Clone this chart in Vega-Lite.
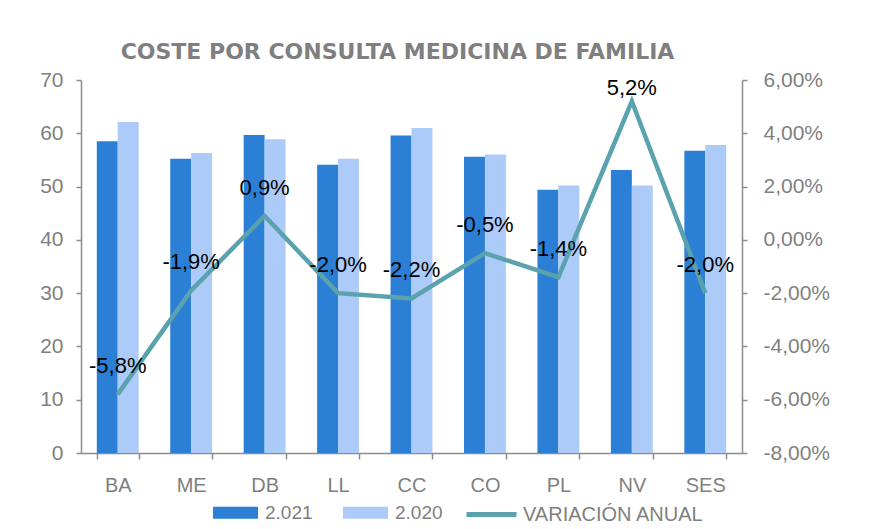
{
  "$schema": "https://vega.github.io/schema/vega-lite/v6.json",
  "autosize": "none",
  "width": 661,
  "height": 373,
  "padding": {"left": 81, "top": 80, "right": 149, "bottom": 76},
  "background": "white",
  "title": {
    "text": "COSTE POR CONSULTA MEDICINA DE FAMILIA",
    "font": "DejaVu Sans",
    "fontSize": 22,
    "fontWeight": "bold",
    "color": "#7f7f7f",
    "anchor": "middle",
    "frame": "group",
    "dx": -14,
    "baseline": "alphabetic",
    "offset": -12
  },
  "datasets": {
    "bars": [
      {"cat": "BA", "serie": "2.021", "valor": 58.5},
      {"cat": "BA", "serie": "2.020", "valor": 62.1},
      {"cat": "ME", "serie": "2.021", "valor": 55.2},
      {"cat": "ME", "serie": "2.020", "valor": 56.3},
      {"cat": "DB", "serie": "2.021", "valor": 59.7},
      {"cat": "DB", "serie": "2.020", "valor": 58.9},
      {"cat": "LL", "serie": "2.021", "valor": 54.1},
      {"cat": "LL", "serie": "2.020", "valor": 55.2},
      {"cat": "CC", "serie": "2.021", "valor": 59.6},
      {"cat": "CC", "serie": "2.020", "valor": 61.0},
      {"cat": "CO", "serie": "2.021", "valor": 55.6},
      {"cat": "CO", "serie": "2.020", "valor": 56.0},
      {"cat": "PL", "serie": "2.021", "valor": 49.4},
      {"cat": "PL", "serie": "2.020", "valor": 50.2},
      {"cat": "NV", "serie": "2.021", "valor": 53.1},
      {"cat": "NV", "serie": "2.020", "valor": 50.2},
      {"cat": "SES", "serie": "2.021", "valor": 56.7},
      {"cat": "SES", "serie": "2.020", "valor": 57.8}
    ],
    "var": [
      {"cat": "BA", "v": -0.058},
      {"cat": "ME", "v": -0.019},
      {"cat": "DB", "v": 0.009},
      {"cat": "LL", "v": -0.020},
      {"cat": "CC", "v": -0.022},
      {"cat": "CO", "v": -0.005},
      {"cat": "PL", "v": -0.014},
      {"cat": "NV", "v": 0.052},
      {"cat": "SES", "v": -0.020}
    ]
  },
  "layer": [
    {
      "data": {"name": "bars"},
      "mark": {"type": "bar"},
      "encoding": {
        "x": {
          "field": "cat",
          "type": "nominal",
          "sort": ["BA", "ME", "DB", "LL", "CC", "CO", "PL", "NV", "SES"],
          "scale": {"paddingInner": 0.43, "paddingOuter": 0.215},
          "axis": {
            "title": null,
            "labelAngle": 0,
            "labelFont": "Liberation Sans",
            "labelFontSize": 20,
            "labelColor": "#7f7f7f",
            "labelPadding": 16,
            "tickBand": "extent",
            "tickSize": 6,
            "tickColor": "#8c8c8c",
            "tickWidth": 1.5,
            "domainColor": "#8c8c8c",
            "domainWidth": 1.5
          }
        },
        "xOffset": {
          "field": "serie",
          "type": "nominal",
          "sort": ["2.021", "2.020"],
          "scale": {"paddingInner": 0, "paddingOuter": 0}
        },
        "y": {
          "field": "valor",
          "type": "quantitative",
          "scale": {"domain": [0, 70], "nice": false, "zero": true},
          "axis": {
            "title": null,
            "values": [0, 10, 20, 30, 40, 50, 60, 70],
            "grid": false,
            "labelFont": "Liberation Sans",
            "labelFontSize": 21,
            "labelColor": "#7f7f7f",
            "labelPadding": 13,
            "tickSize": 5,
            "tickColor": "#8c8c8c",
            "tickWidth": 1.5,
            "domainColor": "#8c8c8c",
            "domainWidth": 1.5
          }
        },
        "color": {
          "field": "serie",
          "type": "nominal",
          "sort": ["2.021", "2.020"],
          "scale": {"domain": ["2.021", "2.020"], "range": ["#2B7FD5", "#ACCBF8"]},
          "legend": {
            "title": null,
            "orient": "none",
            "direction": "horizontal",
            "legendX": 132,
            "legendY": 410,
            "padding": 0,
            "symbolType": "M-1,-0.27H1V0.27H-1Z",
            "symbolSize": 2025,
            "symbolStrokeWidth": 0,
            "labelOffset": 7,
            "columnPadding": 30,
            "labelFont": "Liberation Sans",
            "labelFontSize": 19,
            "labelColor": "#7f7f7f"
          }
        }
      }
    },
    {
      "data": {"name": "var"},
      "encoding": {
        "x": {"field": "cat", "type": "nominal", "sort": ["BA", "ME", "DB", "LL", "CC", "CO", "PL", "NV", "SES"]},
        "y": {
          "field": "v",
          "type": "quantitative",
          "scale": {"domain": [-0.08, 0.06], "nice": false, "zero": false},
          "axis": {
            "title": null,
            "orient": "right",
            "values": [-0.08, -0.06, -0.04, -0.02, 0, 0.02, 0.04, 0.06],
            "format": ".2%",
            "grid": false,
            "labelFont": "Liberation Sans",
            "labelFontSize": 21,
            "labelColor": "#7f7f7f",
            "labelPadding": 16,
            "tickSize": 5,
            "tickColor": "#8c8c8c",
            "tickWidth": 1.5,
            "domainColor": "#8c8c8c",
            "domainWidth": 1.5
          }
        }
      },
      "layer": [
        {
          "mark": {"type": "line", "strokeWidth": 4.5},
          "encoding": {
            "stroke": {
              "datum": "VARIACIÓN ANUAL",
              "type": "nominal",
              "scale": {"range": ["#5AA2AE"]},
              "legend": {
                "title": null,
                "orient": "none",
                "legendX": 383,
                "legendY": 407,
                "padding": 0,
                "symbolType": "stroke",
                "symbolSize": 2500,
                "symbolStrokeWidth": 5,
                "labelOffset": 4,
                "labelLimit": 400,
                "labelFont": "Liberation Sans",
                "labelFontSize": 20,
                "labelColor": "#7f7f7f"
              }
            }
          }
        },
        {
          "transform": [{"filter": "datum.v <= 0.05"}],
          "mark": {"type": "text", "dy": -28, "font": "Liberation Sans", "fontSize": 22, "color": "black", "baseline": "middle"},
          "encoding": {"text": {"field": "v", "type": "quantitative", "format": ".1%"}}
        },
        {
          "transform": [{"filter": "datum.v > 0.05"}],
          "mark": {"type": "text", "dy": -13, "font": "Liberation Sans", "fontSize": 22, "color": "black", "baseline": "middle"},
          "encoding": {"text": {"field": "v", "type": "quantitative", "format": ".1%"}}
        }
      ]
    }
  ],
  "resolve": {"scale": {"y": "independent"}},
  "config": {
    "view": {"stroke": null},
    "locale": {
      "number": {"decimal": ",", "thousands": ".", "grouping": [3], "currency": ["", " €"], "minus": "-"}
    }
  }
}
